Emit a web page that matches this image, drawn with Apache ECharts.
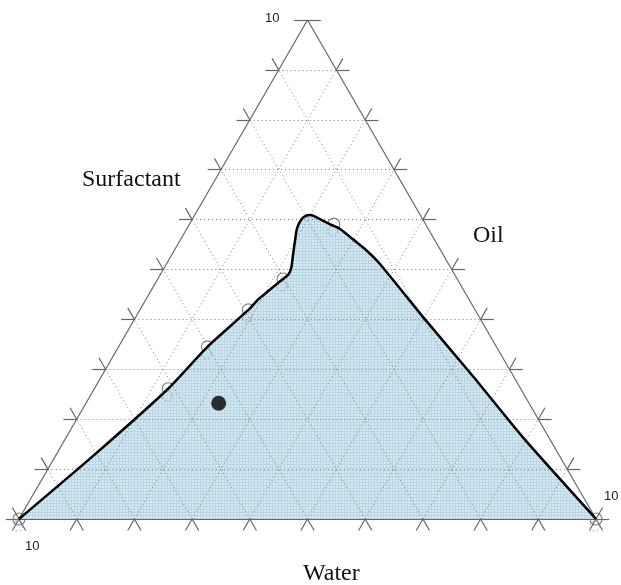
<!DOCTYPE html>
<html>
<head>
<meta charset="utf-8">
<script src="https://cdn.jsdelivr.net/npm/echarts@6/dist/echarts.min.js"></script>
<style>
html,body{margin:0;padding:0;background:#fff;}
#chart{width:621px;height:585px;}
</style>
</head>
<body>
<div id="chart"></div>
<script>
// ---- data (percent) ----
const gridLevels = [10, 20, 30, 40, 50, 60, 70, 80, 90];
const vertexLabel = '10';
const axisNames = ['Surfactant', 'Oil', 'Water'];
// phase boundary, read along the curve from the Water vertex to the Oil vertex
const boundarySurfactant = [0, 13.0, 26.1, 34.5, 41.9, 44.1, 48.1, 49.0, 50.4, 53.0, 55.9, 58.1, 59.5, 60.5, 60.9, 60.7, 60.1, 59.1, 58.1, 55.9, 54.1, 51.5, 46.3, 40.3, 28.5, 16.4, 0];
const boundaryOil        = [0, 6.7, 12.8, 15.4, 18.8, 19.5, 21.7, 22.2, 22.0, 21.0, 19.9, 19.1, 18.9, 19.1, 19.9, 20.8, 22.1, 24.3, 26.6, 30.1, 32.9, 36.5, 42.8, 50.0, 64.5, 79.1, 100];
// titration points (open circles)
const sampleSurfactant = [0, 26.1, 34.5, 41.9, 48.1, 59.1, 0];
const sampleOil        = [0, 12.8, 15.4, 18.8, 21.7, 25.0, 100];
// selected formulation (black dot)
const mixSurfactant = [23.2];
const mixOil        = [23.0];

// ---- ternary -> cartesian (Water vertex at origin, Oil vertex at x=100) ----
const K = Math.sqrt(3) / 2;
function toXY(s, o) { return [o + s / 2, s * K]; }
const YMAX = 100 * K;

const boundary = boundarySurfactant.map((s, i) => toXY(s, boundaryOil[i]));
const samples = sampleSurfactant.map((s, i) => toXY(s, sampleOil[i]));
const mix = mixSurfactant.map((s, i) => toXY(s, mixOil[i]));

// grid lines (dotted) parallel to each edge
const gridLines = [];
gridLevels.forEach(k => {
  gridLines.push({coords: [toXY(k, 0), toXY(k, 100 - k)]});      // const surfactant
  gridLines.push({coords: [toXY(0, k), toXY(100 - k, k)]});      // const oil
  gridLines.push({coords: [toXY(0, 100 - k), toXY(100 - k, 0)]}); // const water
});
// triangle edges
const edges = [
  {coords: [toXY(0, 0), toXY(0, 100)]},
  {coords: [toXY(0, 100), toXY(100, 0)]},
  {coords: [toXY(100, 0), toXY(0, 0)]}
];
// tick marks (two short legs at each grid level)
const L = 2.3;
function leg(p, deg) {
  const a = deg * Math.PI / 180;
  return {coords: [p, [p[0] + L * Math.cos(a), p[1] + L * Math.sin(a)]]};
}
const ticks = [];
gridLevels.forEach(k => {
  const pb = toXY(0, k);        // bottom edge
  ticks.push(leg(pb, 240), leg(pb, 300));
  const pl = toXY(k, 0);        // left edge
  ticks.push(leg(pl, 180), leg(pl, 120));
  const pr = toXY(k, 100 - k);  // right edge
  ticks.push(leg(pr, 0), leg(pr, 60));
});
const vTop = toXY(100, 0), vBL = toXY(0, 0), vBR = toXY(0, 100);
ticks.push(leg(vTop, 180), leg(vTop, 0));
ticks.push(leg(vBL, 240), leg(vBL, 300), leg(vBL, 180), leg(vBL, 120));
ticks.push(leg(vBR, 240), leg(vBR, 300), leg(vBR, 0), leg(vBR, 60));

// dotted fill pattern
const pat = document.createElement('canvas');
pat.width = 3; pat.height = 3;
const pc = pat.getContext('2d');
pc.fillStyle = '#d4eaf6'; pc.fillRect(0, 0, 3, 3);
pc.fillStyle = '#bcd5e3'; pc.fillRect(2, 0, 1, 3); pc.fillRect(0, 2, 3, 1);

const chart = echarts.init(document.getElementById('chart'), null, {renderer: 'canvas'});
const serifFont = '"Liberation Serif", "Times New Roman", serif';
const sansFont = '"Liberation Sans", Arial, sans-serif';

chart.setOption({
  animation: false,
  backgroundColor: '#fff',
  grid: {left: 19, top: 20, width: 577, height: 499, containLabel: false},
  xAxis: {type: 'value', min: 0, max: 100, show: false},
  yAxis: {type: 'value', min: 0, max: YMAX, show: false},
  graphic: [
    {type: 'text', left: 82, top: 168, style: {text: axisNames[0], font: '24px ' + serifFont, fill: '#111'}},
    {type: 'text', left: 473, top: 224, style: {text: axisNames[1], font: '24px ' + serifFont, fill: '#111'}},
    {type: 'text', left: 303, top: 562, style: {text: axisNames[2], font: '24px ' + serifFont, fill: '#111'}},
    {type: 'text', left: 265, top: 12, style: {text: vertexLabel, font: '13px ' + sansFont, fill: '#222'}},
    {type: 'text', left: 25, top: 540, style: {text: vertexLabel, font: '13px ' + sansFont, fill: '#222'}},
    {type: 'text', left: 604, top: 490, style: {text: vertexLabel, font: '13px ' + sansFont, fill: '#222'}}
  ],
  series: [
    {
      type: 'scatter', data: samples, z: 1, silent: true,
      symbol: 'circle', symbolSize: 12,
      itemStyle: {color: 'rgba(0,0,0,0)', borderColor: '#666', borderWidth: 1.2}
    },
    {
      type: 'line', data: boundary, z: 2, silent: true, smooth: 0.2,
      showSymbol: false, lineStyle: {width: 0, opacity: 0},
      areaStyle: {color: {image: pat, repeat: 'repeat'}, opacity: 1}
    },
    {
      type: 'lines', coordinateSystem: 'cartesian2d', data: gridLines, z: 3, silent: true, clip: false,
      lineStyle: {color: '#666', width: 1, type: [1, 3], opacity: 0.85}
    },
    {
      type: 'lines', coordinateSystem: 'cartesian2d', data: edges.concat(ticks), z: 3, silent: true, clip: false,
      lineStyle: {color: '#666', width: 1.2, opacity: 1}
    },
    {
      type: 'scatter', data: samples, z: 4, silent: true,
      symbol: 'circle', symbolSize: 10, symbolOffset: [-1, 7],
      itemStyle: {color: 'rgba(0,0,0,0)', borderColor: '#7f9cae', borderWidth: 1, borderType: [2, 2]}
    },
    {
      type: 'line', data: boundary, z: 5, silent: true, smooth: 0.2,
      showSymbol: false, lineStyle: {color: '#000', width: 2.5, join: 'round'}
    },
    {
      type: 'scatter', data: mix, z: 6, silent: true,
      symbol: 'circle', symbolSize: 15, itemStyle: {color: '#000'}
    }
  ]
});
</script>
</body>
</html>
